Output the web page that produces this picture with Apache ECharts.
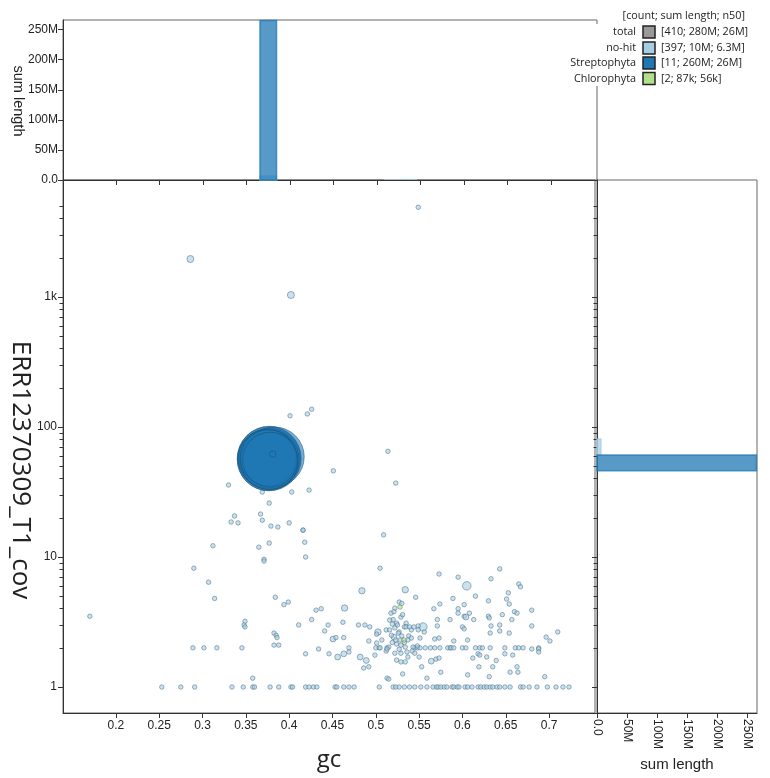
<!DOCTYPE html>
<html><head><meta charset="utf-8">
<script src="https://cdn.jsdelivr.net/npm/echarts@6/dist/echarts.min.js"></script>
<style>html,body{margin:0;padding:0;background:#fff}#c{width:770px;height:778px}</style>
</head><body><div id="c"></div>
<script>
// ---- legend data ----
const legendNames = ['total', 'no-hit', 'Streptophyta', 'Chlorophyta'];
const legendStats = ['[410; 280M; 26M]', '[397; 10M; 6.3M]', '[11; 260M; 26M]', '[2; 87k; 56k]'];
const legendColors = ['#999999', '#a6cee3', '#1f78b4', '#b2df8a'];
const legendHeader = '[count; sum length; n50]';

// ---- scatter points: [gc, coverage, length] ----
const noHitPoints = [
  [0.549,4900,5e4],[0.286,1960,3.6e5],[0.402,1036,3.6e5],[0.401,122,5e4],[0.421,126,5e4],[0.426,137,5e4],
  [0.451,46,5e4],[0.514,65,1.5e5],[0.523,37,3e4],[0.509,14.8,1e5],[0.378,70,6.3e6],
  [0.330,35.8,1e5],[0.403,31.6,1e5],[0.423,32.7,1.5e5],[0.369,31.6,5e4],[0.377,26,1e5],
  [0.337,20.7,1.5e5],[0.333,18.6,1e5],[0.341,18.3,1e5],[0.367,21.4,1e5],[0.369,19.2,1e5],
  [0.379,17.3,1e5],[0.387,17.0,1e5],[0.400,18.3,1.5e5],[0.416,16.1,1e5],[0.416,16.1,1e5],
  [0.418,13.0,1.5e5],[0.419,10,1e5],[0.312,12.2,1e5],[0.365,11.9,1e5],[0.377,12.8,1.5e5],
  [0.371,9.6,1e5],[0.371,9.3,1e5],[0.290,8.2,1e5],[0.307,6.4,1e5],[0.314,4.8,5e4],
  [0.384,4.9,5e4],[0.394,4.3,5e4],[0.399,4.5,1e5],[0.170,3.5,3e4],[0.431,3.9,5e4],
  [0.426,3.3,5e4],[0.411,3.0,5e4],[0.349,3.2,5e4],[0.348,3.0,1e5],[0.349,2.9,5e4],
  [0.3825,2.6,1e5],[0.385,2.5,1e5],[0.386,2.4,5e4],[0.3825,2.1,1e5],[0.388,2.1,1e5],
  [0.419,1.8,5e4],[0.434,1.96,5e4],
  [0.289,2,3e4],[0.3016,2,3e4],[0.3166,2,3e4],[0.3455,2,3e4],[0.358,1.17,3e4],
  [0.253,1,2e4],[0.275,1,2e4],[0.291,1,2e4],[0.334,1,2e4],[0.347,1,2e4],[0.358,1,2e4],[0.360,1,2e4],
  [0.378,1,2e4],[0.388,1,2e4],[0.402,1,2e4],[0.404,1,2e4],[0.419,1,2e4],[0.423,1,2e4],[0.428,1,2e4],[0.432,1,2e4],
  [0.505,8.2,1e5],[0.573,7.4,5e4],[0.595,7.0,5e4],[0.643,8.1,5e4],[0.633,6.8,5e4],[0.605,6.0,5.3e5],
  [0.665,6.2,5e4],[0.667,5.9,5e4],[0.484,5.5,3e5],[0.534,5.6,3e5],[0.653,5.3,5e4],[0.615,5.0,5e4],
  [0.546,4.9,1e5],[0.651,4.75,5e4],[0.589,4.8,5e4],[0.654,4.35,5e4],[0.574,4.35,5e4],[0.602,4.3,5e4],
  [0.63,4.6,5e4],[0.437,4.0,5e4],[0.464,4.05,3e5],[0.567,4.0,5e4],[0.595,4.0,5e4],[0.595,3.7,5e4],
  [0.608,3.7,5e4],[0.602,3.5,5e4],[0.604,3.45,2.5e5],[0.613,3.3,5e4],[0.63,3.5,1e5],[0.631,3.4,5e4],
  [0.646,3.6,5e4],[0.66,3.8,5e4],[0.663,3.7,5e4],[0.68,3.9,5e4],[0.657,3.3,5e4],[0.571,3.3,5e4],
  [0.445,3.0,5e4],[0.462,3.15,1e5],[0.48,3.0,5e4],[0.4875,3.0,5e4],[0.493,2.9,5e4],[0.5025,2.65,3e5],
  [0.5545,2.9,5e5],[0.549,2.95,5e4],[0.556,2.65,5e4],[0.571,2.95,5e4],[0.5857,3.3,5e4],[0.6,2.9,5e4],
  [0.602,2.8,5e4],[0.633,2.95,5e4],[0.643,3.0,5e4],[0.643,2.7,5e4],[0.654,2.6,5e4],[0.68,2.95,5e4],
  [0.632,2.6,1e5],[0.441,2.7,5e4],[0.4506,2.34,2.5e5],[0.454,2.4,1e5],[0.463,2.4,1e5],[0.492,2.26,1e5],
  [0.501,2.55,1e5],[0.512,2.75,1.5e5],[0.568,2.34,5e4],[0.573,2.38,5e4],[0.59,2.26,5e4],[0.606,2.3,5e4],
  [0.6966,2.42,5e4],[0.701,2.26,5e4],[0.71,2.65,5e4],
  [0.469,2,3e4],[0.5,2,3e4],[0.504,2,3e4],[0.505,2,3e4],[0.513,2,3e4],[0.545,2,3e4],[0.548,2,3e4],
  [0.551,2,3e4],[0.557,2,3e4],[0.563,2,3e4],[0.568,2,3e4],[0.574,2,3e4],[0.583,2,3e4],[0.586,2,3e4],
  [0.587,2,3e4],[0.59,2,3e4],[0.6,2,3e4],[0.604,2,3e4],[0.615,2,3e4],[0.62,2,3e4],[0.623,2,3e4],
  [0.632,2,3e4],[0.649,2,3e4],[0.661,2,3e4],[0.665,2,3e4],[0.67,2,3e4],[0.688,2,3e4],
  [0.446,1.8,5e4],[0.463,1.8,2.5e5],[0.456,1.7,2.5e5],[0.469,1.86,5e4],[0.482,1.7,2.5e5],[0.489,1.6,2.5e5],
  [0.486,1.4,1e5],[0.492,1.43,5e4],[0.499,1.76,5e4],[0.564,1.58,2.5e5],[0.5695,1.64,5e4],[0.573,1.67,5e4],
  [0.575,1.3,5e4],[0.553,1.43,5e4],[0.612,1.67,5e4],[0.618,1.8,5e4],[0.62,1.76,5e4],[0.619,1.43,5e4],
  [0.628,1.7,5e4],[0.635,1.43,5e4],[0.639,1.6,5e4],[0.649,1.8,5e4],[0.658,1.76,5e4],[0.663,1.43,5e4],
  [0.631,1.2,5e4],[0.606,1.24,5e4],[0.655,1.3,5e4],[0.664,1.3,5e4],[0.68,1.96,5e4],[0.688,1.96,5e4],
  [0.688,1.86,5e4],[0.695,1.2,5e4],[0.513,1.17,5e4],[0.515,1.15,5e4],[0.559,1.17,5e4],[0.531,1.26,5e4],
  [0.453,1,2e4],[0.455,1,2e4],[0.463,1,2e4],[0.469,1,2e4],[0.475,1,2e4],[0.504,1,2e4],[0.520,1,2e4],
  [0.523,1,2e4],[0.527,1,2e4],[0.533,1,2e4],[0.539,1,2e4],[0.545,1,2e4],[0.552,1,2e4],[0.559,1,2e4],
  [0.566,1,2e4],[0.570,1,2e4],[0.572,1,2e4],[0.575,1,2e4],[0.579,1,2e4],[0.582,1,2e4],[0.588,1,2e4],
  [0.590,1,2e4],[0.594,1,2e4],[0.596,1,2e4],[0.603,1,2e4],[0.606,1,2e4],[0.611,1,2e4],[0.618,1,2e4],
  [0.621,1,2e4],[0.625,1,2e4],[0.628,1,2e4],[0.632,1,2e4],[0.635,1,2e4],[0.640,1,2e4],[0.643,1,2e4],
  [0.649,1,2e4],[0.655,1,2e4],[0.667,1,2e4],[0.670,1,2e4],[0.677,1,2e4],[0.686,1,2e4],[0.698,1,2e4],
  [0.708,1,2e4],[0.716,1,2e4],[0.723,1,2e4],
  [0.527,4.5,1e5],[0.530,4.4,1e5],[0.5175,3.7,1.5e5],[0.521,3.8,1e5],[0.529,3.45,1e5],[0.52,3.3,1.5e5],
  [0.524,3.1,1e5],[0.535,3.1,1e5],[0.533,2.9,1.5e5],[0.522,2.85,1e5],[0.527,2.65,1e5],[0.516,2.75,1e5],
  [0.521,2.42,2.5e5],[0.53,2.47,1e5],[0.538,2.47,1.5e5],[0.541,2.38,1e5],[0.537,2.3,1e5],[0.528,2.3,1.5e5],
  [0.519,2.2,1e5],[0.524,2.14,1e5],[0.529,2.1,1.5e5],[0.534,2.03,1e5],[0.543,2.03,1e5],[0.515,2.03,1e5],
  [0.536,1.86,1.5e5],[0.542,1.89,1e5],[0.545,1.82,1e5],[0.529,1.82,1e5],[0.522,1.82,1e5],[0.524,1.61,1.5e5],
  [0.529,1.56,1e5],[0.534,1.56,1e5],[0.537,1.7,1e5],[0.55,1.7,1e5],[0.548,2.07,1e5],[0.551,2.38,1e5],
  [0.549,2.75,1e5],[0.507,2.3,1e5],[0.501,2.18,1e5],[0.512,1.89,1e5],[0.513,1.96,1e5],[0.516,3.27,1e5],
  [0.522,4.05,1e5],[0.531,3.6,1e5],[0.535,2.9,1e5],[0.539,2.9,1e5],[0.541,2.75,1e5],[0.544,2.9,1e5],
  [0.526,2.6,1.5e5],[0.525,3.0,1e5],[0.519,3.05,1e5],[0.523,2.3,1e5],[0.533,2.2,1e5],[0.518,2.5,1e5],[0.527,1.95,1e5]
];
const streptophytaPoints = [
  [0.377,57,30e6],[0.377,58,29e6],[0.376,56,28e6],[0.378,57,27e6],[0.383,59,26e6],[0.377,56,26e6],
  [0.375,57,25e6],[0.377,55,24e6],[0.376,58,23e6],[0.378,56,22e6],[0.381,62,0.3e6]
];
const chlorophytaPoints = [[0.528,4.12,5e4],[0.5326,2.3,3.7e4]];

// ---- histograms: top [gcStart, gcEnd, sumLength]; right [covStart, covEnd, sumLength] ----
const topHistNoHit = [[0.3655,0.3845,6.5e6],[0.508,0.527,1.5e6],[0.527,0.546,2.0e6]];
const topHistStreptophyta = [[0.3655,0.3845,265e6]];
const topHistChlorophyta = [[0.527,0.546,8.7e4]];
const rightHistNoHit = [[61,81,6.5e6]];
const rightHistStreptophyta = [[46,61,265e6]];
const rightHistChlorophyta = [[3.63,4.8,5e4]];

// ---- axis ticks ----
const gcTicks = [0.2,0.25,0.3,0.35,0.4,0.45,0.5,0.55,0.6,0.65,0.7];
const covMinorTicks = [2,3,4,5,6,7,8,9,20,30,40,50,60,70,80,90,200,300,400,500,600,700,800,900,2000,3000,4000,5000];
const lengthTicks = [0,50e6,100e6,150e6,200e6,250e6];

const fontTick = 'Liberation Sans';
const fontTitle = 'Open Sans';
const catColor = {'no-hit':'#a6cee3','Streptophyta':'#1f78b4','Chlorophyta':'#b2df8a'};
const catBorder = {'no-hit':'#4d6f8a','Streptophyta':'#16527c','Chlorophyta':'#5b8a3a'};

function sizeOf(v){ return Math.max(4.5, 0.01169*Math.sqrt(v[2])); }
function fmtM(v){ if (v===0) return '0.0'; return Math.round(v/1e6)+'M'; }
function fmtCov(v){ const r=Math.round(v); return r>=1000 ? (r/1000)+'k' : String(r); }

function scatter(name, data){
  return {type:'scatter', name, xAxisIndex:0, yAxisIndex:0, data, symbolSize: sizeOf,
    itemStyle:{color:catColor[name], opacity:0.6, borderColor:catBorder[name], borderWidth:0.9},
    emphasis:{disabled:true}, silent:true, z:3};
}
function barStyle(name, w){
  return {fill:catColor[name], opacity:0.75, stroke: w >= 2 ? catColor[name] : null, lineWidth: w >= 2 ? 1.5 : 0};
}
function topHist(name, data){
  return {type:'custom', name, xAxisIndex:1, yAxisIndex:1, data, encode:{x:[0,1], y:2}, silent:true, z:3,
    renderItem(params, api){
      const p0 = api.coord([api.value(0), api.value(2)]);
      const p1 = api.coord([api.value(1), 0]);
      const h = p1[1]-p0[1];
      return {type:'rect', shape:{x:p0[0], y:p0[1], width:p1[0]-p0[0], height:h}, style:barStyle(name, h)};
    }};
}
function rightHist(name, data){
  return {type:'custom', name, xAxisIndex:2, yAxisIndex:2, data, encode:{x:2, y:[0,1]}, silent:true, z:3,
    renderItem(params, api){
      const p0 = api.coord([0, api.value(1)]);
      const p1 = api.coord([api.value(2), api.value(0)]);
      const w = p1[0]-p0[0];
      return {type:'rect', shape:{x:p0[0], y:p0[1], width:w, height:p1[1]-p0[1]}, style:barStyle(name, w)};
    }};
}

const axisLine = {show:true, onZero:false, lineStyle:{color:'#333', width:1}};
const axisTick = {show:true, length:5, lineStyle:{color:'#333'}};
const tickLabel = {fontFamily:fontTick, fontSize:12, color:'#222'};
const minorTickAxis = (gridIndex) => ({type:'value', gridIndex, position:'left', min:Math.log10(0.631), max:Math.log10(7943),
  axisLine:{show:false, onZero:false}, axisTick:{show:true, length:3.5, lineStyle:{color:'#333'}, customValues:covMinorTicks.map(Math.log10)},
  axisLabel:{show:false}, splitLine:{show:false}});

const graphics = [];
graphics.push({type:'rect', shape:{x:552, y:24, width:218, height:62}, style:{fill:'#fff'}, z:10});
graphics.push({type:'text', x:745, y:16, z:11, style:{text:legendHeader, font:'10.8px "Open Sans"', fill:'#222', align:'right', verticalAlign:'middle'}});
const rowY = [32, 48, 63, 78.5];
legendNames.forEach((n,i)=>{
  graphics.push({type:'text', x:636, y:rowY[i], z:11, style:{text:n, font:'10.8px "Open Sans"', fill:'#222', align:'right', verticalAlign:'middle'}});
  graphics.push({type:'rect', z:11, shape:{x:643, y:rowY[i]-6, width:12, height:12}, style:{fill:legendColors[i], stroke:'#222', lineWidth:1.5}});
  graphics.push({type:'text', x:661, y:rowY[i], z:11, style:{text:legendStats[i], font:'10.8px "Open Sans"', fill:'#222', align:'left', verticalAlign:'middle'}});
});
graphics.push({type:'text', x:20, y:470, rotation:-Math.PI/2, z:11,
  style:{text:'ERR12370309_T1_cov', font:'26px "Open Sans"', fill:'#222', align:'center', verticalAlign:'middle'}});
graphics.push({type:'text', x:18, y:101, rotation:-Math.PI/2, z:11,
  style:{text:'sum length', font:'14.5px "Liberation Sans"', fill:'#222', align:'center', verticalAlign:'middle'}});

const gridBase = {show:true, borderColor:'#666', borderWidth:1, containLabel:false, outerBoundsMode:'none'};
const option = {
  animation:false,
  backgroundColor:'#fff',
  grid:[
    {...gridBase, left:63, top:180, width:532, height:533},
    {...gridBase, left:63, top:20, width:534, height:160},
    {...gridBase, left:597, top:180, width:160, height:533}
  ],
  xAxis:[
    {type:'value', gridIndex:0, position:'bottom', min:0.139, max:0.753, axisLine,
     axisTick:{...axisTick, customValues:gcTicks},
     axisLabel:{...tickLabel, customValues:gcTicks, margin:7, formatter:v=>String(+v.toFixed(2))},
     splitLine:{show:false}, name:'gc', nameLocation:'middle', nameGap:35,
     nameTextStyle:{fontFamily:fontTitle, fontSize:24, color:'#222'}},
    {type:'value', gridIndex:1, position:'bottom', min:0.139, max:0.753, axisLine,
     axisTick:{...axisTick, customValues:gcTicks}, axisLabel:{show:false}, splitLine:{show:false}},
    {type:'value', gridIndex:2, position:'bottom', min:0, max:266e6, axisLine,
     axisTick:{...axisTick, customValues:lengthTicks},
     axisLabel:{...tickLabel, customValues:lengthTicks, rotate:-90, margin:6, formatter:fmtM},
     splitLine:{show:false}, name:'sum length', nameLocation:'middle', nameGap:34,
     nameTextStyle:{fontFamily:fontTick, fontSize:15, color:'#222'}}
  ],
  yAxis:[
    {type:'log', logBase:10, gridIndex:0, position:'left', min:0.631, max:7943, axisLine, axisTick,
     axisLabel:{...tickLabel, showMinLabel:false, showMaxLabel:false, margin:6, formatter:fmtCov},
     splitLine:{show:false}},
    {type:'value', gridIndex:1, position:'left', min:0, max:266e6, axisLine,
     axisTick:{...axisTick, customValues:lengthTicks},
     axisLabel:{...tickLabel, customValues:lengthTicks, margin:5, formatter:fmtM},
     splitLine:{show:false}},
    {type:'log', logBase:10, gridIndex:2, position:'left', min:0.631, max:7943, axisLine, axisTick,
     axisLabel:{show:false}, splitLine:{show:false}},
    minorTickAxis(0),
    minorTickAxis(2)
  ],
  graphic: graphics,
  series:[
    scatter('no-hit', noHitPoints),
    scatter('Streptophyta', streptophytaPoints),
    scatter('Chlorophyta', chlorophytaPoints),
    topHist('no-hit', topHistNoHit),
    topHist('Streptophyta', topHistStreptophyta),
    topHist('Chlorophyta', topHistChlorophyta),
    rightHist('no-hit', rightHistNoHit),
    rightHist('Streptophyta', rightHistStreptophyta),
    rightHist('Chlorophyta', rightHistChlorophyta)
  ]
};
const chart = echarts.init(document.getElementById('c'), null, {renderer:'canvas'});
chart.setOption(option);
</script>
</body></html>
